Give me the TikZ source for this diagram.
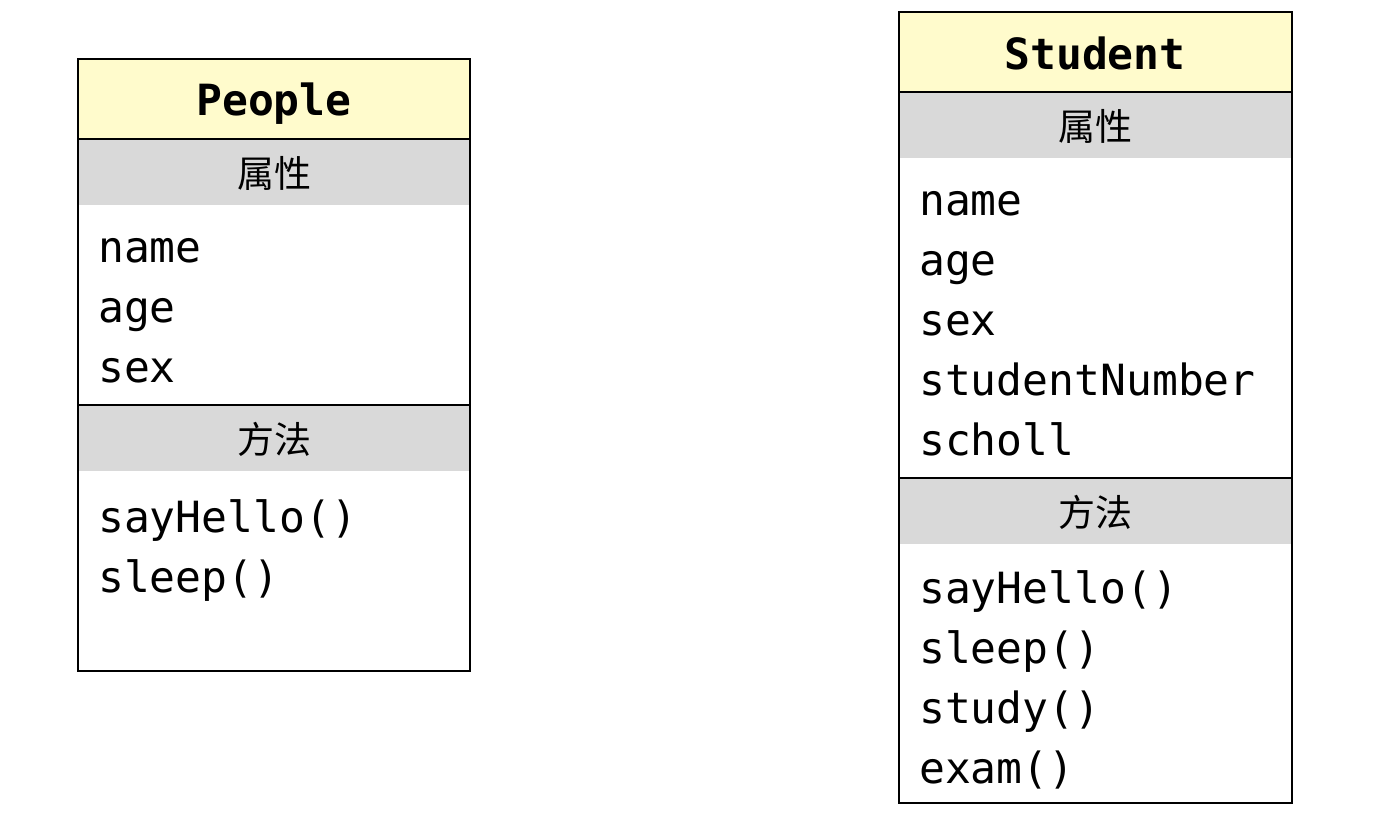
\documentclass[tikz,border=0pt]{standalone}
\usepackage{fontspec}
\setmonofont{DejaVu Sans Mono}
\newfontfamily\cjk{Noto Sans CJK SC}
\definecolor{titlefill}{HTML}{FFFBCC}
\definecolor{bandfill}{HTML}{D9D9D9}
\tikzset{
  member/.style={anchor=base west, inner sep=0pt, font=\ttfamily\fontsize{43}{50}\selectfont},
  ctitle/.style={inner sep=0pt, font=\ttfamily\bfseries\fontsize{43}{50}\selectfont},
  band/.style={inner sep=0pt, font=\cjk\fontsize{37}{40}\selectfont},
  frame/.style={draw=black, line width=2pt}
}
\begin{document}
\begin{tikzpicture}[x=1pt,y=-1pt]
\useasboundingbox (0,0) rectangle (1375,814);
% People
\fill[titlefill] (78,59) rectangle (470,139);
\fill[bandfill] (78,139) rectangle (470,205);
\fill[bandfill] (78,405) rectangle (470,471);
\draw[frame] (78,59) rectangle (470,671);
\draw[frame] (78,139) -- (470,139);
\draw[frame] (78,405) -- (470,405);
\node[ctitle] (ptitle) at (274,104) {People};
\node[band] (pattr) at (274,173) {属性};
\node[band] (pmeth) at (274,439) {方法};
\node[member] (pname) at (98,262) {name};
\node[member] (page) at (98,322) {age};
\node[member] (psex) at (98,382) {sex};
\node[member] (phello) at (98,532) {sayHello()};
\node[member] (psleep) at (98,592) {sleep()};
% Student
\fill[titlefill] (899,12) rectangle (1292,92);
\fill[bandfill] (899,92) rectangle (1292,158);
\fill[bandfill] (899,478) rectangle (1292,544);
\draw[frame] (899,12) rectangle (1292,803);
\draw[frame] (899,92) -- (1292,92);
\draw[frame] (899,478) -- (1292,478);
\node[ctitle] (stitle) at (1095,53) {Student};
\node[band] (sattr) at (1095,126) {属性};
\node[band] (smeth) at (1095,512) {方法};
\node[member] (sname) at (919,215) {name};
\node[member] (sage) at (919,275) {age};
\node[member] (ssex) at (919,335) {sex};
\node[member] (snum) at (919,395) {studentNumber};
\node[member] (sscholl) at (919,455) {scholl};
\node[member] (shello) at (919,603) {sayHello()};
\node[member] (ssleep) at (919,663) {sleep()};
\node[member] (sstudy) at (919,723) {study()};
\node[member] (sexam) at (919,783) {exam()};
\end{tikzpicture}
\end{document}
